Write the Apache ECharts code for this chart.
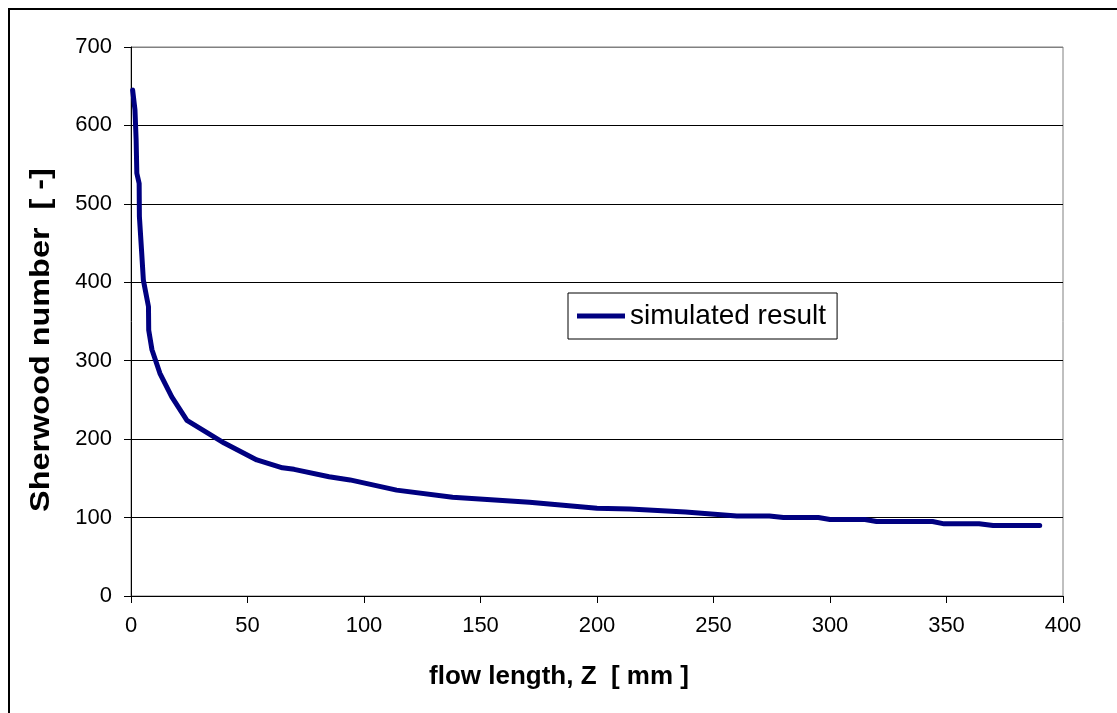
<!DOCTYPE html>
<html>
<head>
<meta charset="utf-8">
<script src="https://cdn.jsdelivr.net/npm/echarts@6/dist/echarts.min.js"></script>
<style>
html,body{margin:0;padding:0;background:#fff;}
#chart{width:1117px;height:713px;}
</style>
</head>
<body>
<div id="chart"></div>
<script>
const flowLength = [0.7, 1.7, 2.2, 2.5, 3.5, 3.6, 4.6, 5.3, 7.5, 7.6, 9, 12.4, 17.5, 24, 40, 54, 65, 70, 85, 94, 114, 138, 171, 200, 214, 238, 260, 274, 280, 295, 300, 315, 320, 344, 349, 364, 370, 390];
const sherwood = [645, 620, 582, 539, 526, 484, 437, 403, 369, 339, 314, 284, 254, 224, 195, 173.5, 163.5, 161.5, 152, 148, 135, 126, 119.6, 112, 111, 107, 102, 102, 100, 100, 97.5, 97.5, 95, 95, 92, 92, 90, 90];
const seriesName = 'simulated result';
const xTitle = 'flow length, Z  [ mm ]';
const yTitle = 'Sherwood number  [ -]';

const points = flowLength.map((x, i) => [x, sherwood[i]]);
const font = "'Liberation Sans', Arial, sans-serif";

const chart = echarts.init(document.getElementById('chart'), null, {renderer: 'canvas'});
chart.setOption({
  animation: false,
  backgroundColor: '#ffffff',
  grid: {left: 131, top: 47, right: 54, bottom: 117, show: true, borderColor: '#808080', borderWidth: 1},
  xAxis: {
    type: 'value', min: 0, max: 400, interval: 50,
    axisLine: {show: true, lineStyle: {color: '#000', width: 1}},
    axisTick: {show: true, length: 7, lineStyle: {color: '#000'}},
    axisLabel: {fontFamily: font, fontSize: 22, color: '#000', margin: 19},
    splitLine: {show: false}
  },
  yAxis: {
    type: 'value', min: 0, max: 700, interval: 100,
    axisLine: {show: true, lineStyle: {color: '#000', width: 1}},
    axisTick: {show: true, length: 7, lineStyle: {color: '#000'}},
    axisLabel: {fontFamily: font, fontSize: 22, color: '#000', margin: 19},
    splitLine: {show: true, lineStyle: {color: ['#000','#000','#000','#000','#000','#000','#000','#808080'], width: 1}}
  },
  legend: {
    left: 568, top: 293,
    padding: [9, 11, 9, 9],
    borderColor: '#000', borderWidth: 1,
    backgroundColor: '#fff',
    icon: 'rect', itemWidth: 48, itemHeight: 5,
    textStyle: {fontFamily: font, fontSize: 28, color: '#000'},
    data: [seriesName]
  },
  series: [{
    name: seriesName,
    type: 'line',
    data: points,
    showSymbol: false,
    symbol: 'none',
    smooth: false,
    lineStyle: {color: '#000080', width: 5, cap: 'round', join: 'round'},
    itemStyle: {color: '#000080'}
  }],
  graphic: [
    {type: 'rect', shape: {x: 9, y: 9, width: 1300, height: 900}, style: {fill: 'none', stroke: '#000', lineWidth: 2}, silent: true},
    {type: 'text', x: 559, y: 677, style: {text: xTitle, font: "bold 26px 'Liberation Sans', Arial, sans-serif", fill: '#000', align: 'center', verticalAlign: 'middle'}},
    {type: 'text', x: 42, y: 340, rotation: Math.PI / 2, scaleX: 1.2, style: {text: yTitle, font: "bold 27px 'Liberation Sans', Arial, sans-serif", fill: '#000', align: 'center', verticalAlign: 'middle'}}
  ]
});
</script>
</body>
</html>
